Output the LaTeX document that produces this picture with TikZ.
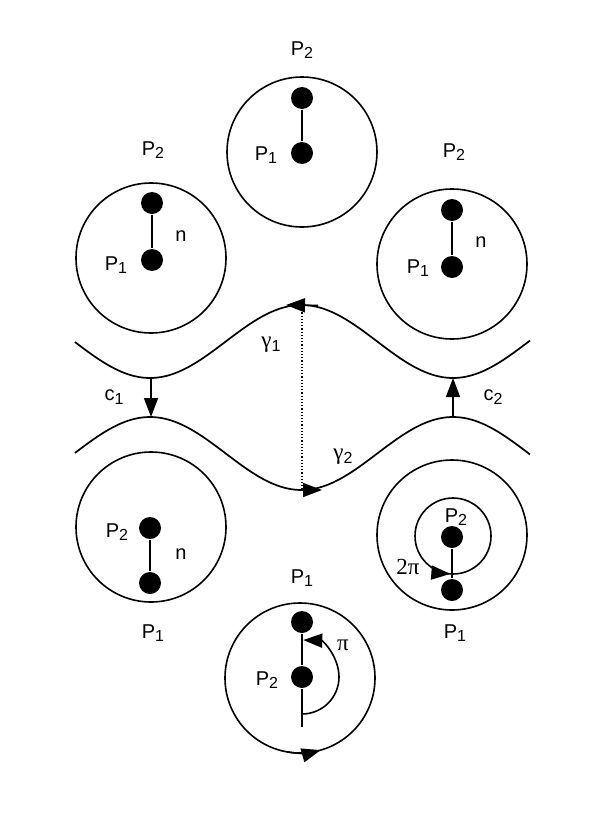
\documentclass[tikz,border=0pt]{standalone}
\usepackage{fontspec}
\setmainfont{Liberation Sans}
\newfontfamily\grk{Liberation Serif}
\usetikzlibrary{arrows.meta}
\newcommand\Pn[1]{P\raisebox{-3.5pt}{\fontsize{16}{16}\selectfont #1}}
\newcommand\subn[1]{\raisebox{-4pt}{\fontsize{16}{16}\selectfont #1}}
\begin{document}
\begin{tikzpicture}[x=1pt,y=-1pt, line width=1.6pt,
  ring/.style={circle,draw,minimum size=150pt,inner sep=0pt},
  smallring/.style={circle,draw,minimum size=76pt,inner sep=0pt},
  dot/.style={circle,fill,minimum size=22pt,inner sep=0pt},
  lbl/.style={font=\fontsize{20}{22}\selectfont, inner sep=0pt},
  glbl/.style={font=\fontsize{23}{25}\selectfont, inner sep=0pt},
  tip/.style={-{Triangle[length=19pt,width=14pt]}},
  wave/.style={line width=1.7pt}]
\useasboundingbox (0,0) rectangle (596,838);

% ---- top circle
\node[ring] (cT) at (302,152) {};
\node[dot] (tT) at (302,98) {};
\node[dot] (bT) at (302,153) {};
\draw (tT) -- (bT);
\node[lbl] (lT2) at (302,50) {\Pn{2}};
\node[lbl] (lT1) at (266,155) {\Pn{1}};

% ---- top-left circle
\node[ring] (cL) at (151,258) {};
\node[dot] (tL) at (152,203) {};
\node[dot] (bL) at (152,260) {};
\draw (tL) -- (bL);
\node[lbl] (lL2) at (153,150) {\Pn{2}};
\node[lbl] (lL1) at (116,265) {\Pn{1}};
\node[lbl] (nL) at (181,236) {n};

% ---- top-right circle
\node[ring] (cR) at (452,264) {};
\node[dot] (tR) at (452,210) {};
\node[dot] (bR) at (452,267) {};
\draw (tR) -- (bR);
\node[lbl] (lR2) at (454,152) {\Pn{2}};
\node[lbl] (lR1) at (418,268) {\Pn{1}};
\node[lbl] (nR) at (481,242) {n};

% ---- waves
\draw[wave] plot[smooth,samples=80,domain=75:530] (\x,{341.5+36.5*cos((\x-150)/303*360)});
\draw[wave] plot[smooth,samples=80,domain=75:530] (\x,{453.5-36.5*cos((\x-150)/303*360)});
\coordinate (g1a) at (318,305.5);
\coordinate (g1b) at (286,305);
\draw[tip] (g1a) -- (g1b);
\coordinate (g2a) at (298,490);
\coordinate (g2b) at (322,490);
\draw[tip] (g2a) -- (g2b);
\coordinate (dTop) at (302,306);
\coordinate (dBot) at (302,489);
\draw[dotted,line width=1.2pt] (dTop) -- (dBot);
\coordinate (c1a) at (151,378);
\coordinate (c1b) at (151,417);
\draw[tip] (c1a) -- (c1b);
\coordinate (c2a) at (453,417);
\coordinate (c2b) at (453,378);
\draw[tip] (c2a) -- (c2b);
\node[lbl] (lc1) at (114,397) {c\subn{1}};
\node[lbl] (lc2) at (493,397) {c\subn{2}};
\node[glbl] (lg1) at (271,345) {{\grk γ}\subn{1}};
\node[glbl] (lg2) at (343,457) {{\grk γ}\subn{2}};

% ---- bottom-left circle
\node[ring] (cBL) at (151,527) {};
\node[dot] (tBL) at (150,528) {};
\node[dot] (bBL) at (150,583) {};
\draw (tBL) -- (bBL);
\node[lbl] (lBL2) at (117,532) {\Pn{2}};
\node[lbl] (nBL) at (181,554) {n};
\node[lbl] (lBL1) at (153,633) {\Pn{1}};

% ---- bottom-right circle
\node[ring] (cBR) at (452,535) {};
\node[smallring] (iBR) at (453,536) {};
\node[dot] (tBR) at (452,537) {};
\node[dot] (bBR) at (452,590) {};
\draw (tBR) -- (bBR);
\draw[tip] (iBR.center) ++(117:38) arc[start angle=117,end angle=94,radius=38];
\node[lbl] (lBR2) at (456,517) {\Pn{2}};
\node[lbl] (lBR1) at (455,633) {\Pn{1}};
\node[glbl] (l2pi) at (408,567) {\grk 2π};

% ---- bottom-centre circle
\node[ring] (cB) at (300,678) {};
\node[dot] (tB) at (302,622) {};
\node[dot] (mB) at (302,677) {};
\coordinate (eB) at (302,727);
\draw (tB) -- (mB) -- (eB);
\draw[tip] (mB.center) ++(90:37) arc[start angle=90,end angle=-88,radius=37];
\draw[tip] (cB.center) ++(100:75) arc[start angle=100,end angle=74,radius=75];
\node[lbl] (lB1) at (302,578) {\Pn{1}};
\node[lbl] (lB2) at (267,680) {\Pn{2}};
\node[glbl] (lpi) at (343,645) {\grk π};
\end{tikzpicture}
\end{document}
